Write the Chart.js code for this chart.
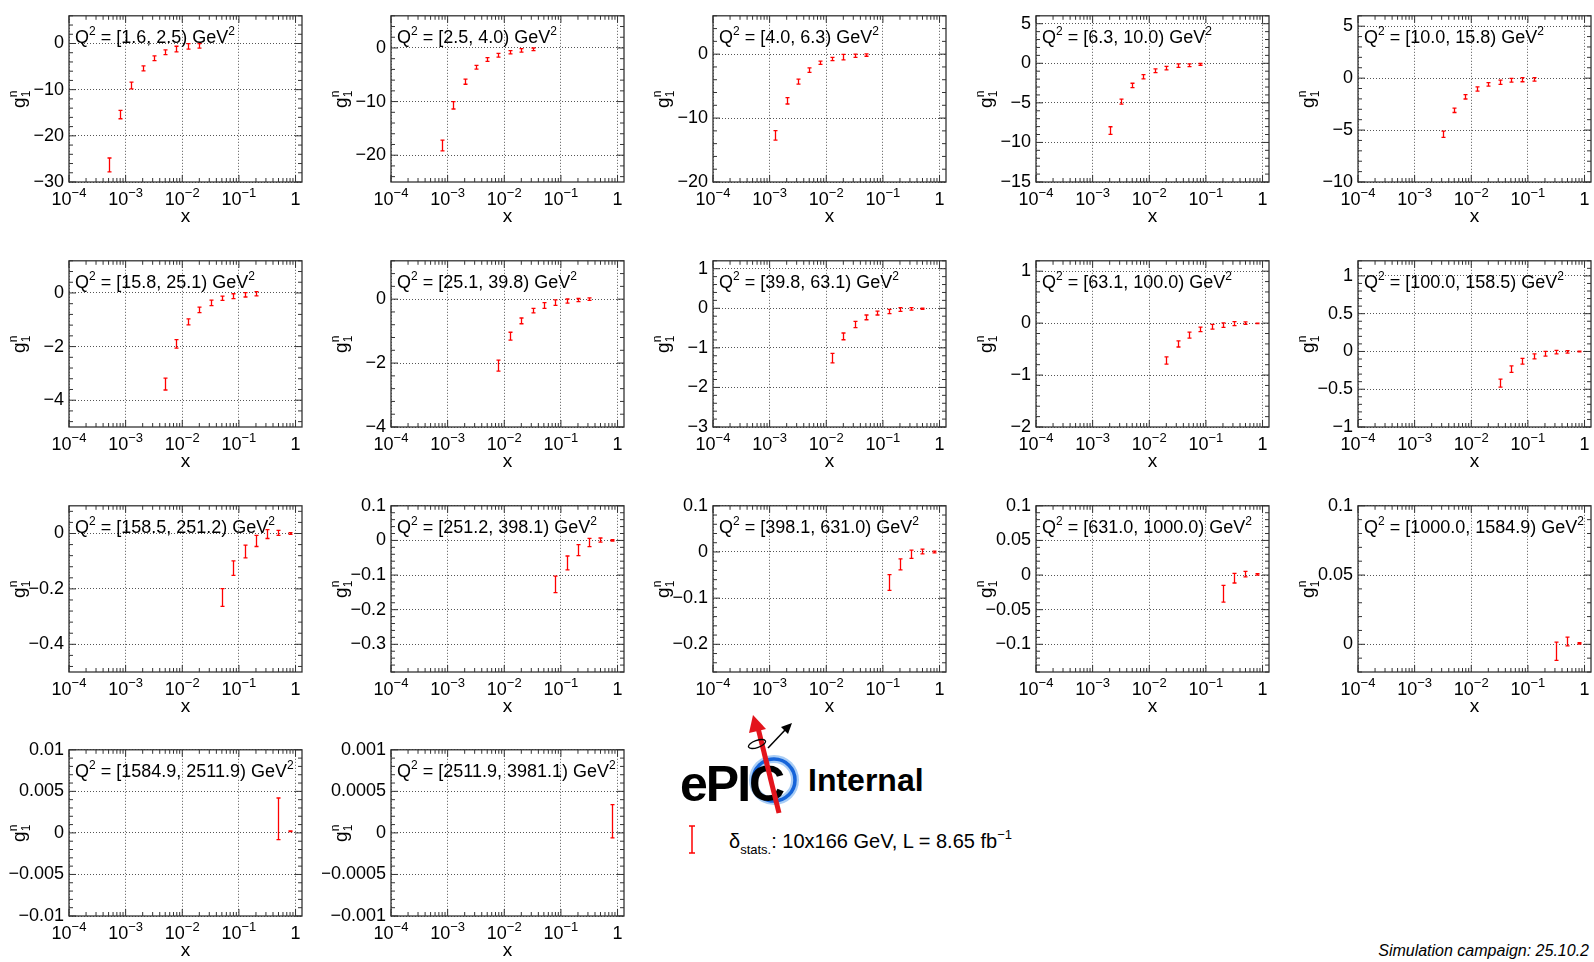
<!DOCTYPE html>
<html>
<head>
<meta charset="utf-8">
<script src="https://cdn.jsdelivr.net/npm/chart.js@4.4.1/dist/chart.umd.min.js"></script>
<style>
  body { margin: 0; width: 1594px; height: 962px; background: #fff; position: relative; overflow: hidden;
         font-family: "Liberation Sans", Arial, sans-serif; }
  canvas.pad { position: absolute; }
  #deco { position: absolute; left: 0; top: 0; pointer-events: none; font-family: "Liberation Sans", Arial, sans-serif; }
</style>
</head>
<body>
<svg id="deco" width="1594" height="962">
  <!-- ePIC logo -->
  <circle cx="774" cy="780" r="21" fill="none" stroke="#a9cdf5" stroke-width="8"/>
  <circle cx="774" cy="780" r="21" fill="none" stroke="#1664d9" stroke-width="3.5"/>
  <text x="680" y="801" font-size="50" font-weight="bold" letter-spacing="-2">ePIC</text>
  <line x1="779" y1="813" x2="758" y2="728" stroke="#e3141c" stroke-width="5"/>
  <polygon points="753,715 749,733 766,729" fill="#e3141c"/>
  <line x1="768" y1="748" x2="786" y2="729" stroke="#000" stroke-width="1.5"/>
  <polygon points="792,723 781,727 788,734" fill="#000"/>
  <ellipse cx="757" cy="744" rx="9" ry="3.5" fill="none" stroke="#000" stroke-width="1.3" transform="rotate(-20 757 744)"/>
  <text x="808" y="791" font-size="32" font-weight="bold">Internal</text>
  <!-- legend -->
  <g stroke="#ff0000" stroke-width="1.5">
    <line x1="692" y1="826" x2="692" y2="853"/>
    <line x1="689" y1="826" x2="695" y2="826"/>
    <line x1="689" y1="853" x2="695" y2="853"/>
  </g>
  <text x="729" y="848" font-size="20">δ<tspan font-size="13" dy="6">stats.</tspan><tspan dy="-6">: 10x166 GeV, L = 8.65 fb</tspan><tspan font-size="13" dy="-9">−1</tspan></text>
  <text x="1589" y="956" font-size="16" font-style="italic" text-anchor="end">Simulation campaign: 25.10.2</text>
</svg>
<script>
// x bin centres (shared log grid), Q^2 bins, y-axis ranges
const xCenters = [0.0005, 0.00079, 0.00126, 0.002, 0.00316, 0.005, 0.0079, 0.0126, 0.02,
                  0.0316, 0.05, 0.079, 0.126, 0.2, 0.316, 0.5, 0.79];
const q2Bins = ["[1.6, 2.5)", "[2.5, 4.0)", "[4.0, 6.3)", "[6.3, 10.0)", "[10.0, 15.8)",
                "[15.8, 25.1)", "[25.1, 39.8)", "[39.8, 63.1)", "[63.1, 100.0)", "[100.0, 158.5)",
                "[158.5, 251.2)", "[251.2, 398.1)", "[398.1, 631.0)", "[631.0, 1000.0)", "[1000.0, 1584.9)",
                "[1584.9, 2511.9)", "[2511.9, 3981.1)"];
const yMin  = [-30, -25, -20, -15, -10, -5, -4, -3, -2, -1, -0.5, -0.38, -0.26, -0.14, -0.02, -0.01, -0.001];
const yMax  = [6, 6, 6, 6, 6, 1.2, 1.2, 1.2, 1.2, 1.2, 0.1, 0.1, 0.1, 0.1, 0.1, 0.01, 0.001];
const yStep = [10, 10, 10, 5, 5, 2, 2, 1, 1, 0.5, 0.2, 0.1, 0.1, 0.05, 0.05, 0.005, 0.0005];
const xMajor = [1e-4, 1e-3, 1e-2, 1e-1, 1];
const xMajorExp = ["−4", "−3", "−2", "−1", ""];

// g1^n values and stat. errors per Q^2 bin (panel k starts at xCenters[k])
const g1n_01 = [-26.3, -15.4, -9.1, -5.4, -3.2, -1.9, -1.2, -0.63, -0.5];
const err_01 = [1.5, 0.9, 0.75, 0.55, 0.5, 0.5, 0.6, 0.6, 0.5];
const g1n_02 = [-18.2, -10.7, -6.3, -3.6, -2.15, -1.35, -0.8, -0.45, -0.25];
const err_02 = [1.0, 0.68, 0.47, 0.36, 0.36, 0.36, 0.3, 0.33, 0.24];
const g1n_03 = [-12.7, -7.3, -4.3, -2.5, -1.35, -0.75, -0.45, -0.25, -0.15];
const err_03 = [0.75, 0.5, 0.4, 0.35, 0.25, 0.25, 0.43, 0.25, 0.18];
const g1n_04 = [-8.5, -4.85, -2.8, -1.7, -0.95, -0.6, -0.3, -0.25, -0.15];
const err_04 = [0.48, 0.32, 0.28, 0.26, 0.24, 0.22, 0.22, 0.18, 0.12];
const g1n_05 = [-5.4, -3.1, -1.8, -1.05, -0.6, -0.4, -0.2, -0.15, -0.12];
const err_05 = [0.3, 0.21, 0.21, 0.21, 0.17, 0.21, 0.18, 0.2, 0.17];
const g1n_06 = [-3.4, -1.9, -1.08, -0.63, -0.37, -0.2, -0.12, -0.07, -0.03];
const err_06 = [0.22, 0.16, 0.11, 0.1, 0.1, 0.08, 0.09, 0.08, 0.08];
const g1n_07 = [-2.08, -1.16, -0.68, -0.36, -0.2, -0.11, -0.06, -0.03, 0.0];
const err_07 = [0.17, 0.125, 0.09, 0.07, 0.09, 0.085, 0.065, 0.05, 0.04];
const g1n_08 = [-1.26, -0.71, -0.41, -0.23, -0.12, -0.08, -0.03, -0.015, -0.01];
const err_08 = [0.12, 0.085, 0.08, 0.06, 0.05, 0.055, 0.048, 0.03, 0.015];
const g1n_09 = [-0.72, -0.4, -0.23, -0.12, -0.07, -0.04, -0.01, 0.0, -0.005];
const err_09 = [0.07, 0.06, 0.058, 0.043, 0.046, 0.043, 0.037, 0.025, 0.006];
const g1n_10 = [-0.42, -0.235, -0.13, -0.065, -0.03, -0.01, -0.005, 0.0];
const err_10 = [0.053, 0.043, 0.038, 0.032, 0.032, 0.023, 0.017, 0.004];
const g1n_11 = [-0.231, -0.125, -0.065, -0.027, -0.002, 0.002, 0.0];
const err_11 = [0.032, 0.026, 0.023, 0.02, 0.016, 0.009, 0.003];
const g1n_12 = [-0.127, -0.065, -0.028, -0.006, 0.001, 0.0];
const err_12 = [0.024, 0.02, 0.016, 0.012, 0.006, 0.002];
const g1n_13 = [-0.066, -0.027, -0.005, 0.001, 0.0];
const err_13 = [0.017, 0.012, 0.009, 0.005, 0.002];
const g1n_14 = [-0.027, -0.0045, 0.0014, 0.001];
const err_14 = [0.012, 0.007, 0.004, 0.001];
const g1n_15 = [-0.005, 0.002, 0.0007];
const err_15 = [0.0066, 0.0032, 0.0005];
const g1n_16 = [0.0017, 0.0002];
const err_16 = [0.0025, 0.00005];
const g1n_17 = [0.00014];
const err_17 = [0.0002];

const g1nSeries = [g1n_01, g1n_02, g1n_03, g1n_04, g1n_05, g1n_06, g1n_07, g1n_08, g1n_09, g1n_10,
                   g1n_11, g1n_12, g1n_13, g1n_14, g1n_15, g1n_16, g1n_17];
const errSeries = [err_01, err_02, err_03, err_04, err_05, err_06, err_07, err_08, err_09, err_10,
                   err_11, err_12, err_13, err_14, err_15, err_16, err_17];

// pad geometry
const colLeft = [69, 391, 713, 1036, 1358];
const rowTop = [7, 252, 497, 741];
const PAD_W = 318, PAD_H = 240, MARGIN_L = 69, MARGIN_T = 7, PLOT_W = 233, PLOT_H = 175;
const FONT = '"Liberation Sans", Arial, sans-serif';
const RED = "#ff0000";
const GRID = "#555";

function fmtY(v, step) {
  const d = Math.max(0, -Math.floor(Math.log10(step) + 1e-9));
  return String(Number(v.toFixed(d))).replace("-", "\u2212");
}

// draw a run of text pieces, some of them raised (sup)
function drawRich(ctx, parts, x, y, size, small, align) {
  let w = 0;
  parts.forEach(p => { ctx.font = (p.s ? small : size) + "px " + FONT; p.w = ctx.measureText(p.t).width; w += p.w; });
  let cx = align === "center" ? x - w / 2 : x;
  ctx.textAlign = "left";
  ctx.textBaseline = "alphabetic";
  parts.forEach(p => {
    ctx.font = (p.s ? small : size) + "px " + FONT;
    ctx.fillText(p.t, cx, y + (p.s === "up" ? -size * 0.42 : 0));
    cx += p.w;
  });
}

g1nSeries.forEach((vals, i) => {
  const col = i % 5, row = Math.floor(i / 5);
  const canvas = document.createElement("canvas");
  canvas.className = "pad";
  canvas.width = PAD_W; canvas.height = PAD_H;
  canvas.style.width = PAD_W + "px"; canvas.style.height = PAD_H + "px";
  canvas.style.left = (colLeft[col] - MARGIN_L) + "px";
  canvas.style.top = (rowTop[row] - MARGIN_T) + "px";
  document.body.appendChild(canvas);

  const pts = vals.map((v, k) => ({ x: xCenters[i + k], y: v, e: errSeries[i][k] }));
  const step = yStep[i];

  const decor = {
    id: "decor" + i,
    afterDraw(chart) {
      const { ctx, chartArea: ca } = chart;
      const xs = chart.scales.x, ys = chart.scales.y;

      // error bars
      ctx.save();
      ctx.beginPath(); ctx.rect(ca.left, ca.top, ca.right - ca.left, ca.bottom - ca.top); ctx.clip();
      ctx.strokeStyle = RED; ctx.lineWidth = 1.3;
      pts.forEach(p => {
        const px = Math.round(xs.getPixelForValue(p.x)) + 0.5;
        const y1 = ys.getPixelForValue(p.y + p.e), y2 = ys.getPixelForValue(p.y - p.e);
        ctx.beginPath();
        ctx.moveTo(px, y1); ctx.lineTo(px, y2);
        ctx.moveTo(px - 2, y1); ctx.lineTo(px + 2, y1);
        ctx.moveTo(px - 2, y2); ctx.lineTo(px + 2, y2);
        ctx.stroke();
      });
      ctx.restore();

      // frame and inward ticks
      ctx.save();
      ctx.strokeStyle = "#333"; ctx.lineWidth = 1.3;
      ctx.strokeRect(ca.left, ca.top, ca.right - ca.left, ca.bottom - ca.top);
      ctx.lineWidth = 1;
      ctx.beginPath();
      for (let d = -4; d <= 0; d++) {
        for (let m = 1; m <= 9; m++) {
          const v = m * Math.pow(10, d);
          if (v > xs.max) break;
          const px = xs.getPixelForValue(v);
          const len = m === 1 ? 7 : 4;
          ctx.moveTo(px, ca.bottom); ctx.lineTo(px, ca.bottom - len);
          ctx.moveTo(px, ca.top); ctx.lineTo(px, ca.top + len);
        }
      }
      const minor = step / 5;
      for (let k = Math.ceil(ys.min / minor - 1e-6); k * minor <= ys.max + 1e-12; k++) {
        const py = ys.getPixelForValue(k * minor);
        const len = Math.abs(k % 5) === 0 ? 7 : 4;
        ctx.moveTo(ca.left, py); ctx.lineTo(ca.left + len, py);
        ctx.moveTo(ca.right, py); ctx.lineTo(ca.right - len, py);
      }
      ctx.stroke();
      ctx.restore();

      // x tick labels 10^n
      ctx.save();
      ctx.fillStyle = "#000";
      xMajor.forEach((v, k) => {
        const px = xs.getPixelForValue(v);
        const parts = xMajorExp[k] ? [{ t: "10" }, { t: xMajorExp[k], s: "up" }] : [{ t: "1" }];
        drawRich(ctx, parts, px, ca.bottom + 23, 18, 13, "center");
      });

      // axis titles
      ctx.font = "19px " + FONT;
      ctx.textAlign = "center"; ctx.textBaseline = "alphabetic";
      ctx.fillText("x", (ca.left + ca.right) / 2, ca.bottom + 40);

      ctx.translate(ca.left - 44, (ca.top + ca.bottom) / 2);
      ctx.rotate(-Math.PI / 2);
      ctx.font = "19px " + FONT;
      ctx.textAlign = "left";
      const gw = ctx.measureText("g").width;
      ctx.fillText("g", -9, 0);
      ctx.font = "12px " + FONT;
      ctx.fillText("n", -9 + gw, -8);
      ctx.fillText("1", -9 + gw, 5);
      ctx.restore();

      // Q^2 bin title
      ctx.save();
      ctx.fillStyle = "#000";
      drawRich(ctx, [{ t: "Q" }, { t: "2", s: "up" }, { t: " = " + q2Bins[i] + " GeV" }, { t: "2", s: "up" }],
               ca.left + 6, ca.top + 27, 18, 12, "left");
      ctx.restore();
    }
  };

  new Chart(canvas, {
    type: "scatter",
    data: { datasets: [{ data: pts, pointRadius: 0, pointHoverRadius: 0, showLine: false }] },
    options: {
      responsive: false,
      animation: false,
      events: [],
      layout: { padding: { top: MARGIN_T, right: PAD_W - MARGIN_L - PLOT_W, bottom: 0, left: 0 } },
      plugins: { legend: { display: false }, tooltip: { enabled: false } },
      scales: {
        x: {
          type: "logarithmic", min: 1e-4, max: 1.3,
          afterBuildTicks: s => { s.ticks = xMajor.map(v => ({ value: v })); },
          afterFit: s => { s.height = PAD_H - MARGIN_T - PLOT_H; },
          ticks: { display: false },
          grid: { color: GRID, lineWidth: 1, drawTicks: false },
          border: { display: false, dash: [1, 2] }
        },
        y: {
          type: "linear", min: yMin[i], max: yMax[i],
          afterBuildTicks: s => {
            const t = [];
            for (let k = Math.ceil(yMin[i] / step - 1e-9); k * step <= yMax[i] + 1e-12; k++) {
              t.push({ value: Number((k * step).toFixed(8)) });
            }
            s.ticks = t;
          },
          afterFit: s => { s.width = MARGIN_L; },
          ticks: {
            stepSize: step, includeBounds: false, padding: 5, color: "#000",
            font: { family: FONT, size: 18 },
            callback: v => fmtY(v, step)
          },
          grid: { color: GRID, lineWidth: 1, drawTicks: false },
          border: { display: false, dash: [1, 2] }
        }
      }
    },
    plugins: [decor]
  });
});
</script>
</body>
</html>
